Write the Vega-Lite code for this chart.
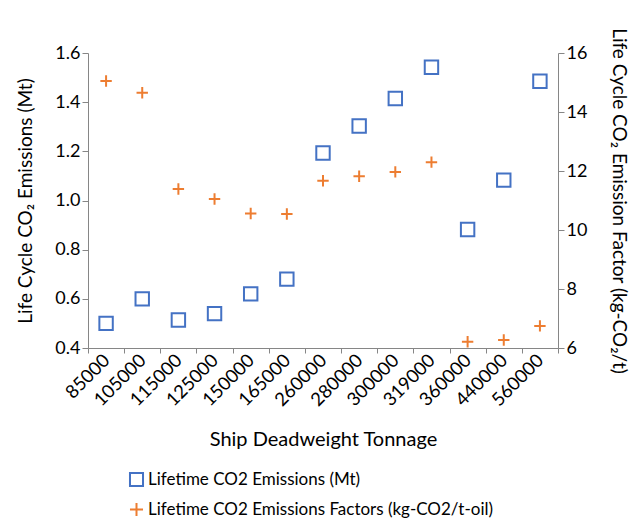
{
  "$schema": "https://vega.github.io/schema/vega-lite/v6.json",
  "width": 470,
  "height": 295,
  "autosize": "none",
  "padding": {"left": 88, "top": 53, "right": 75, "bottom": 171},
  "background": "white",
  "config": {
    "view": {"stroke": null},
    "font": "Lato",
    "axis": {"labelFont": "Lato", "titleFont": "Lato", "labelColor": "#000000", "titleColor": "#000000", "titleFontWeight": "normal", "domainColor": "#868686", "tickColor": "#868686", "grid": false},
    "legend": {"labelFont": "Lato", "labelColor": "#000000"}
  },
  "data": {
    "values": [
      {"dwt": "85000", "series": "Lifetime CO2 Emissions (Mt)", "value": 0.50},
      {"dwt": "105000", "series": "Lifetime CO2 Emissions (Mt)", "value": 0.60},
      {"dwt": "115000", "series": "Lifetime CO2 Emissions (Mt)", "value": 0.514},
      {"dwt": "125000", "series": "Lifetime CO2 Emissions (Mt)", "value": 0.54},
      {"dwt": "150000", "series": "Lifetime CO2 Emissions (Mt)", "value": 0.62},
      {"dwt": "165000", "series": "Lifetime CO2 Emissions (Mt)", "value": 0.68},
      {"dwt": "260000", "series": "Lifetime CO2 Emissions (Mt)", "value": 1.193},
      {"dwt": "280000", "series": "Lifetime CO2 Emissions (Mt)", "value": 1.303},
      {"dwt": "300000", "series": "Lifetime CO2 Emissions (Mt)", "value": 1.415},
      {"dwt": "319000", "series": "Lifetime CO2 Emissions (Mt)", "value": 1.542},
      {"dwt": "360000", "series": "Lifetime CO2 Emissions (Mt)", "value": 0.882},
      {"dwt": "440000", "series": "Lifetime CO2 Emissions (Mt)", "value": 1.083},
      {"dwt": "560000", "series": "Lifetime CO2 Emissions (Mt)", "value": 1.485},
      {"dwt": "85000", "series": "Lifetime CO2 Emissions Factors (kg-CO2/t-oil)", "value": 15.05},
      {"dwt": "105000", "series": "Lifetime CO2 Emissions Factors (kg-CO2/t-oil)", "value": 14.65},
      {"dwt": "115000", "series": "Lifetime CO2 Emissions Factors (kg-CO2/t-oil)", "value": 11.39},
      {"dwt": "125000", "series": "Lifetime CO2 Emissions Factors (kg-CO2/t-oil)", "value": 11.05},
      {"dwt": "150000", "series": "Lifetime CO2 Emissions Factors (kg-CO2/t-oil)", "value": 10.56},
      {"dwt": "165000", "series": "Lifetime CO2 Emissions Factors (kg-CO2/t-oil)", "value": 10.54},
      {"dwt": "260000", "series": "Lifetime CO2 Emissions Factors (kg-CO2/t-oil)", "value": 11.67},
      {"dwt": "280000", "series": "Lifetime CO2 Emissions Factors (kg-CO2/t-oil)", "value": 11.82},
      {"dwt": "300000", "series": "Lifetime CO2 Emissions Factors (kg-CO2/t-oil)", "value": 11.97},
      {"dwt": "319000", "series": "Lifetime CO2 Emissions Factors (kg-CO2/t-oil)", "value": 12.30},
      {"dwt": "360000", "series": "Lifetime CO2 Emissions Factors (kg-CO2/t-oil)", "value": 6.21},
      {"dwt": "440000", "series": "Lifetime CO2 Emissions Factors (kg-CO2/t-oil)", "value": 6.27},
      {"dwt": "560000", "series": "Lifetime CO2 Emissions Factors (kg-CO2/t-oil)", "value": 6.75}
    ]
  },
  "encoding": {
    "x": {
      "field": "dwt",
      "type": "ordinal",
      "sort": null,
      "scale": {"paddingInner": 0, "paddingOuter": 0},
      "axis": {
        "title": "Ship Deadweight Tonnage",
        "titleFontSize": 20,
        "titlePadding": 20,
        "labelFontSize": 18.5,
        "labelAngle": -45,
        "labelAlign": "right",
        "labelBaseline": "middle",
        "labelPadding": 4,
        "tickBand": "extent",
        "tickSize": 5
      }
    },
    "color": {
      "field": "series",
      "type": "nominal",
      "scale": {"domain": ["Lifetime CO2 Emissions (Mt)", "Lifetime CO2 Emissions Factors (kg-CO2/t-oil)"], "range": ["#4472C4", "#ED7D31"]},
      "legend": {
        "title": null,
        "orient": "none",
        "legendX": 40,
        "legendY": 418,
        "direction": "vertical",
        "labelFontSize": 17,
        "labelLimit": 0,
        "symbolSize": 170,
        "symbolStrokeWidth": 2,
        "rowPadding": 7,
        "labelOffset": 3
      }
    },
    "shape": {
      "field": "series",
      "type": "nominal",
      "scale": {"domain": ["Lifetime CO2 Emissions (Mt)", "Lifetime CO2 Emissions Factors (kg-CO2/t-oil)"], "range": ["square", "M-1,0L1,0M0,-1L0,1"]}
    }
  },
  "layer": [
    {
      "transform": [{"filter": "datum.series === 'Lifetime CO2 Emissions (Mt)'"}],
      "mark": {"type": "point", "filled": false, "size": 180, "strokeWidth": 2, "opacity": 1},
      "encoding": {
        "y": {
          "field": "value",
          "type": "quantitative",
          "scale": {"domain": [0.4, 1.6], "nice": false, "zero": false},
          "axis": {
            "title": "Life Cycle CO₂ Emissions (Mt)",
            "titleFontSize": 19,
            "titlePadding": 19,
            "labelFontSize": 18,
            "values": [0.4, 0.6, 0.8, 1.0, 1.2, 1.4, 1.6],
            "format": ".1f",
            "tickSize": 6
          }
        }
      }
    },
    {
      "transform": [{"filter": "datum.series === 'Lifetime CO2 Emissions Factors (kg-CO2/t-oil)'"}],
      "mark": {"type": "point", "filled": false, "size": 130, "strokeWidth": 2, "opacity": 1},
      "encoding": {
        "y": {
          "field": "value",
          "type": "quantitative",
          "scale": {"domain": [6, 16], "nice": false, "zero": false},
          "axis": {
            "orient": "right",
            "title": "Life Cycle CO₂ Emission Factor (kg-CO₂/t)",
            "titleFontSize": 19,
            "titlePadding": 22,
            "labelFontSize": 18,
            "values": [6, 8, 10, 12, 14, 16],
            "tickSize": 6
          }
        }
      }
    }
  ],
  "resolve": {"scale": {"y": "independent"}}
}
